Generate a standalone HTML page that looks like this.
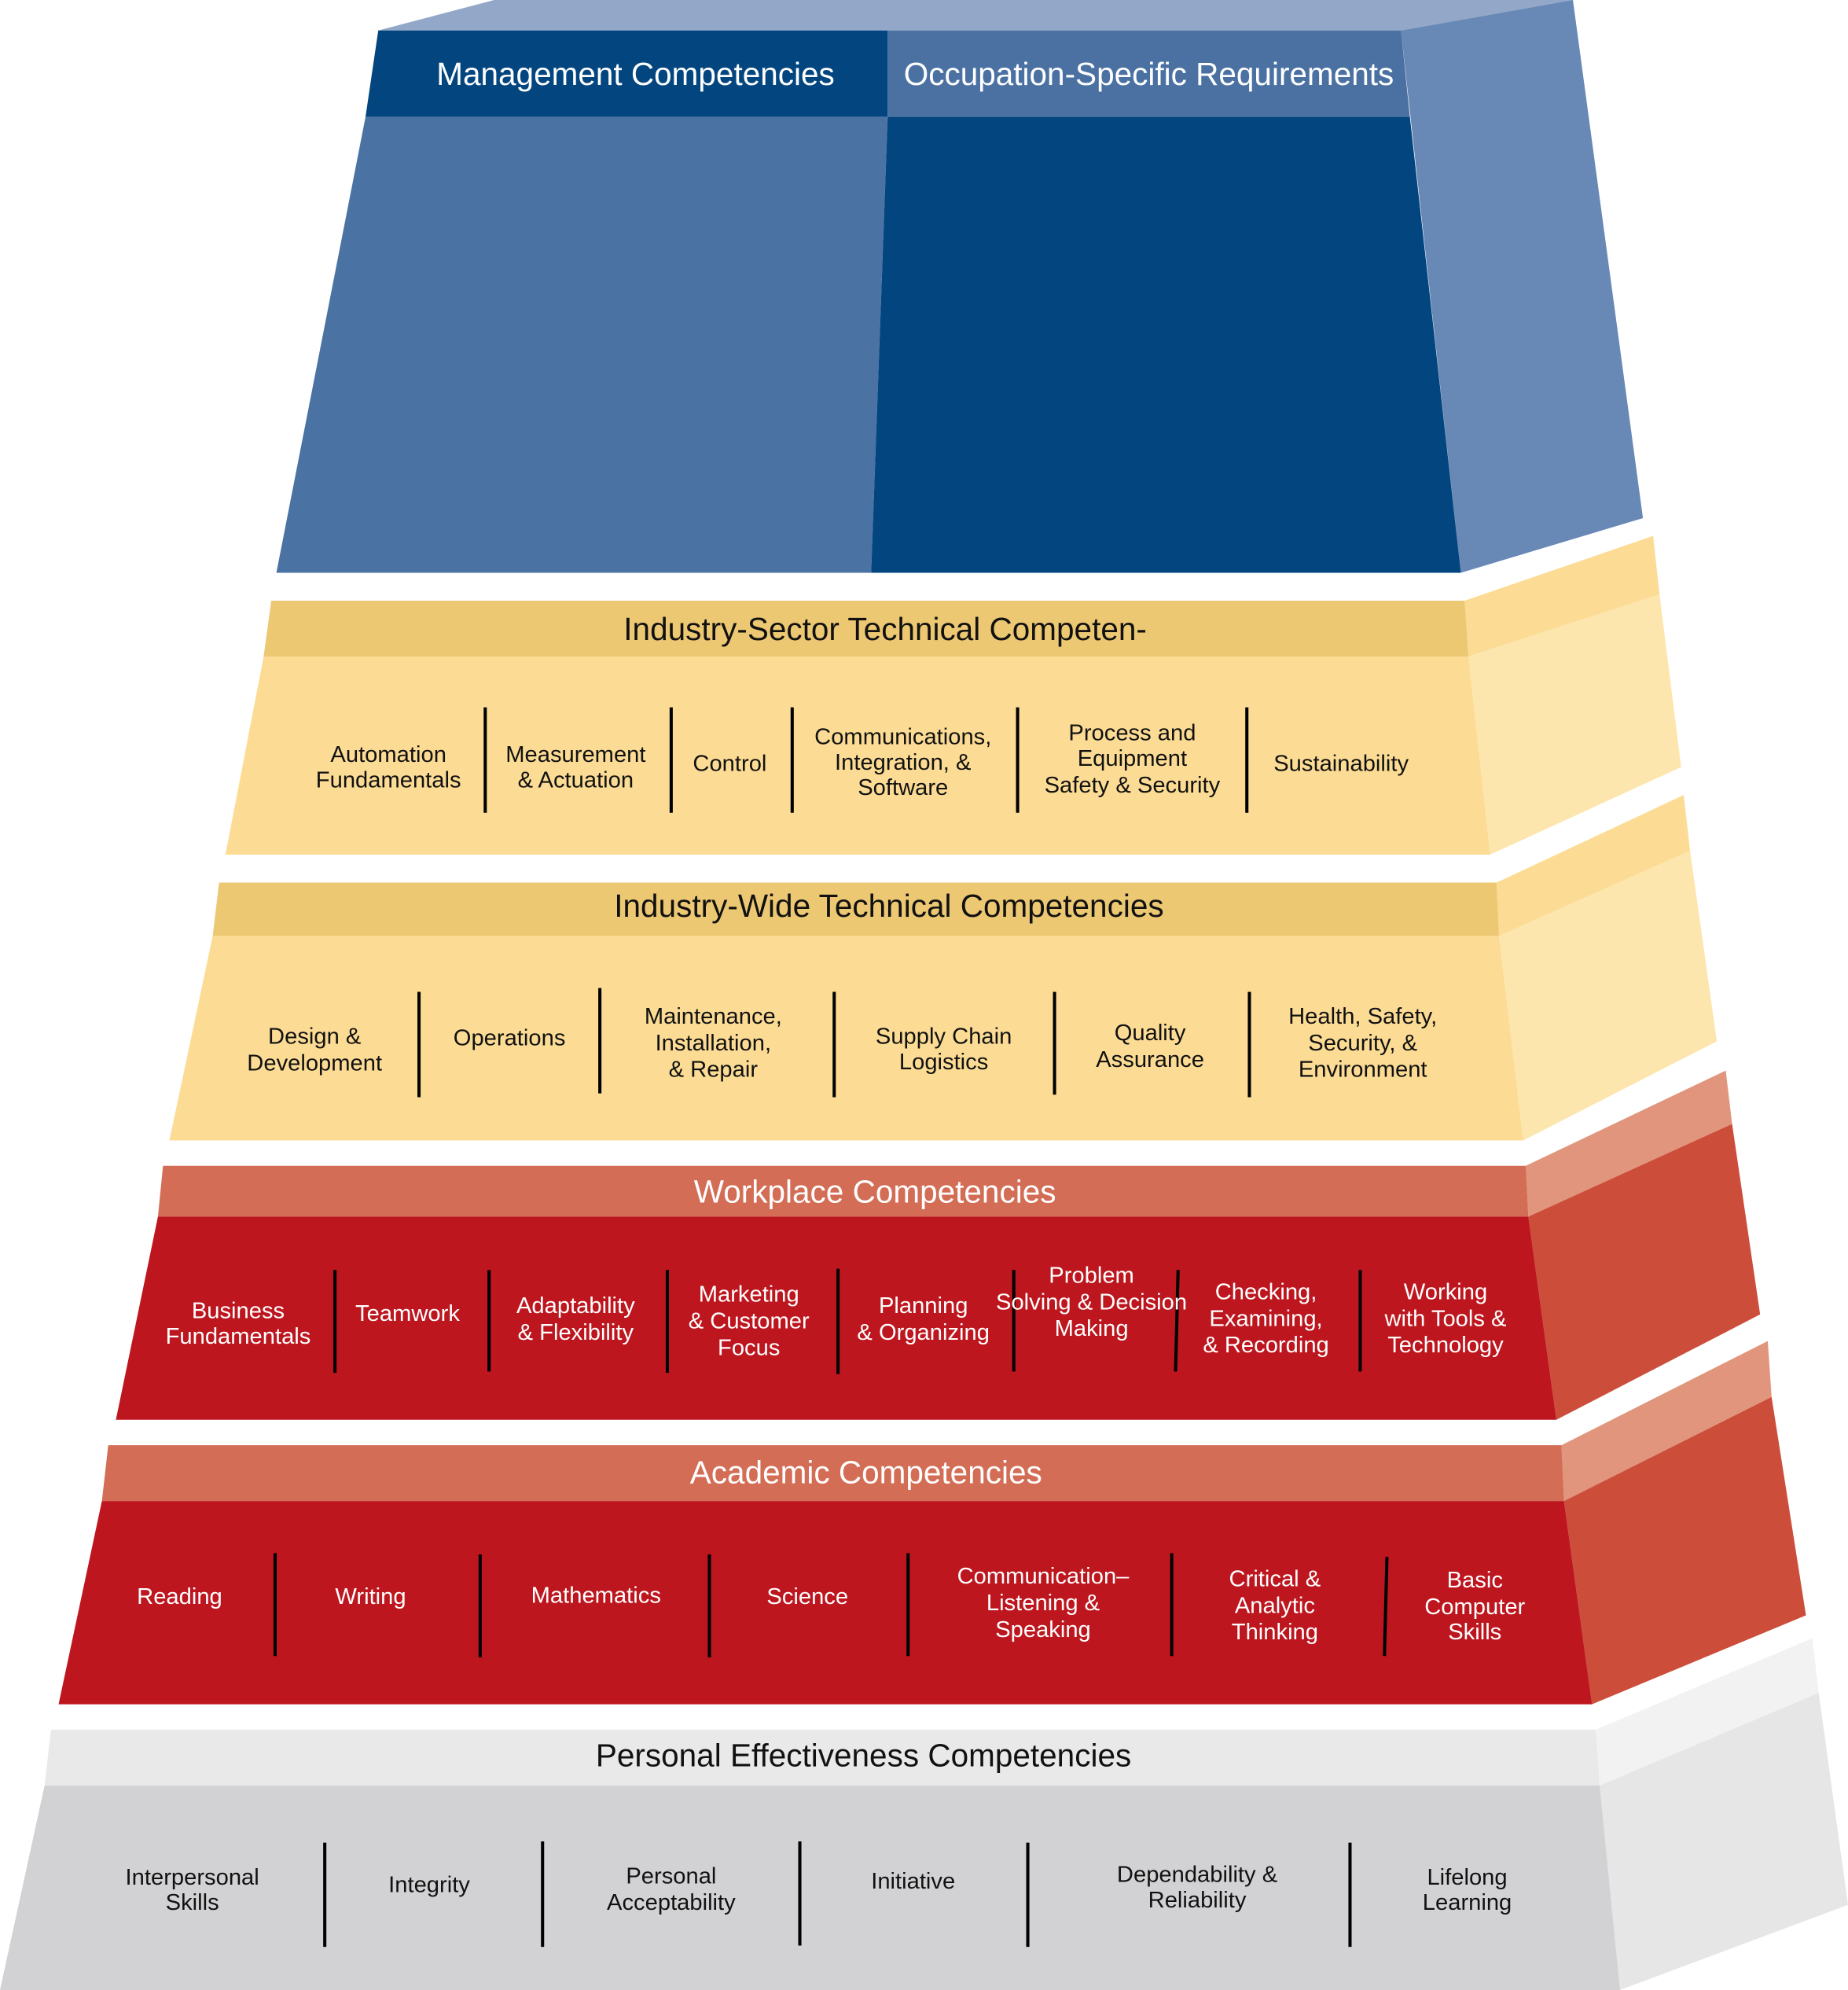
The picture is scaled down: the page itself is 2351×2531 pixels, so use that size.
<!DOCTYPE html>
<html><head><meta charset="utf-8"><style>
html,body{margin:0;padding:0;background:#fff}
svg{display:block}
text{font-family:"Liberation Sans",sans-serif}
</style></head><body>
<svg width="2351" height="2531" viewBox="0 0 1451 1567" preserveAspectRatio="none" xmlns="http://www.w3.org/2000/svg">
<!-- Top block -->
<polygon points="297,24 388,0 1235,0 1100,24" fill="#93a8c9"/>
<polygon points="1100,24 1235,0 1290,408 1147,451" fill="#6888b5"/>
<polygon points="297,24 697,24 697,92 287,92" fill="#02457f"/>
<polygon points="697,24 1100,24 1107,92 697,92" fill="#4a71a2"/>
<polygon points="287,92 697,92 684,451 217,451" fill="#4a72a3"/>
<polygon points="697,92 1107,92 1147,451 684,451" fill="#02457f"/>
<g fill="#fff" font-size="25" text-anchor="middle">
<text x="499" y="67">Management Competencies</text>
<text x="902" y="67">Occupation-Specific Requirements</text>
</g>

<!-- Industry-Sector -->
<polygon points="1150,473 1298,422 1303,468 1153,517" fill="#fcdc94"/>
<polygon points="1153,517 1303,468 1320,604 1170,673" fill="#fde6ad"/>
<polygon points="213,473 1150,473 1153,517 207,517" fill="#edc873"/>
<polygon points="207,517 1153,517 1170,673 177,673" fill="#fcdc94"/>
<text x="695" y="504" font-size="25" text-anchor="middle" fill="#111">Industry-Sector Technical Competen-</text>
<g stroke="#000" stroke-width="2.5">
<line x1="381" y1="557" x2="381" y2="640"/><line x1="527" y1="557" x2="527" y2="640"/><line x1="622" y1="557" x2="622" y2="640"/><line x1="799" y1="557" x2="799" y2="640"/><line x1="979" y1="557" x2="979" y2="640"/>
</g>
<g font-size="18" text-anchor="middle" fill="#111">
<text x="305" y="600">Automation</text><text x="305" y="620">Fundamentals</text>
<text x="452" y="600">Measurement</text><text x="452" y="620">&amp; Actuation</text>
<text x="573" y="607">Control</text>
<text x="709" y="586">Communications,</text><text x="709" y="606">Integration, &amp;</text><text x="709" y="626">Software</text>
<text x="889" y="583">Process and</text><text x="889" y="603">Equipment</text><text x="889" y="624">Safety &amp; Security</text>
<text x="1053" y="607">Sustainability</text>
</g>

<!-- Industry-Wide -->
<polygon points="1175,695 1322,626 1327,670 1177,737" fill="#fcdc94"/>
<polygon points="1177,737 1327,670 1348,820 1196,898" fill="#fde6ad"/>
<polygon points="172,695 1175,695 1177,737 167,737" fill="#edc873"/>
<polygon points="167,737 1177,737 1196,898 133,898" fill="#fcdc94"/>
<text x="698" y="722" font-size="25" text-anchor="middle" fill="#111">Industry-Wide Technical Competencies</text>
<g stroke="#000" stroke-width="2.5">
<line x1="329" y1="781" x2="329" y2="864"/><line x1="471" y1="778" x2="471" y2="861"/><line x1="655" y1="781" x2="655" y2="864"/><line x1="828" y1="781" x2="828" y2="862"/><line x1="981" y1="781" x2="981" y2="864"/>
</g>
<g font-size="18" text-anchor="middle" fill="#111">
<text x="247" y="822">Design &amp;</text><text x="247" y="843">Development</text>
<text x="400" y="823">Operations</text>
<text x="560" y="806">Maintenance,</text><text x="560" y="827">Installation,</text><text x="560" y="848">&amp; Repair</text>
<text x="741" y="822">Supply Chain</text><text x="741" y="842">Logistics</text>
<text x="903" y="819">Quality</text><text x="903" y="840">Assurance</text>
<text x="1070" y="806">Health, Safety,</text><text x="1070" y="827">Security, &amp;</text><text x="1070" y="848">Environment</text>
</g>

<!-- Workplace -->
<polygon points="1198,918 1355,843 1360,885 1200,958" fill="#e0957c"/>
<polygon points="1200,958 1360,885 1382,1035 1222,1118" fill="#cc4e3a"/>
<polygon points="128,918 1198,918 1200,958 124,958" fill="#d36d55"/>
<polygon points="124,958 1200,958 1222,1118 91,1118" fill="#bd161e"/>
<text x="687" y="947" font-size="25" text-anchor="middle" fill="#fff">Workplace Competencies</text>
<g stroke="#000" stroke-width="2.5">
<line x1="263" y1="1000" x2="263" y2="1081"/><line x1="384" y1="1000" x2="384" y2="1080"/><line x1="524" y1="1000" x2="524" y2="1081"/><line x1="658" y1="999" x2="658" y2="1082"/><line x1="796" y1="1000" x2="796" y2="1080"/><line x1="925" y1="1000" x2="923" y2="1080"/><line x1="1068" y1="1000" x2="1068" y2="1080"/>
</g>
<g font-size="18" text-anchor="middle" fill="#fff">
<text x="187" y="1038">Business</text><text x="187" y="1058">Fundamentals</text>
<text x="320" y="1040">Teamwork</text>
<text x="452" y="1034">Adaptability</text><text x="452" y="1055">&amp; Flexibility</text>
<text x="588" y="1025">Marketing</text><text x="588" y="1046">&amp; Customer</text><text x="588" y="1067">Focus</text>
<text x="725" y="1034">Planning</text><text x="725" y="1055">&amp; Organizing</text>
<text x="857" y="1010">Problem</text><text x="857" y="1031">Solving &amp; Decision</text><text x="857" y="1052">Making</text>
<text x="994" y="1023">Checking,</text><text x="994" y="1044">Examining,</text><text x="994" y="1065">&amp; Recording</text>
<text x="1135" y="1023">Working</text><text x="1135" y="1044">with Tools &amp;</text><text x="1135" y="1065">Technology</text>
</g>

<!-- Academic -->
<polygon points="1226,1138 1388,1056 1391,1100 1228,1182" fill="#e0957c"/>
<polygon points="1228,1182 1391,1100 1418,1272 1250,1342" fill="#cc4e3a"/>
<polygon points="85,1138 1226,1138 1228,1182 80,1182" fill="#d36d55"/>
<polygon points="80,1182 1228,1182 1250,1342 46,1342" fill="#bd161e"/>
<text x="680" y="1168" font-size="25" text-anchor="middle" fill="#fff">Academic Competencies</text>
<g stroke="#000" stroke-width="2.5">
<line x1="216" y1="1223" x2="216" y2="1304"/><line x1="377" y1="1224" x2="377" y2="1305"/><line x1="557" y1="1224" x2="557" y2="1305"/><line x1="713" y1="1223" x2="713" y2="1304"/><line x1="920" y1="1223" x2="920" y2="1304"/><line x1="1089" y1="1226" x2="1087" y2="1304"/>
</g>
<g font-size="18" text-anchor="middle" fill="#fff">
<text x="141" y="1263">Reading</text>
<text x="291" y="1263">Writing</text>
<text x="468" y="1262">Mathematics</text>
<text x="634" y="1263">Science</text>
<text x="819" y="1247">Communication–</text><text x="819" y="1268">Listening &amp;</text><text x="819" y="1289">Speaking</text>
<text x="1001" y="1249">Critical &amp;</text><text x="1001" y="1270">Analytic</text><text x="1001" y="1291">Thinking</text>
<text x="1158" y="1250">Basic</text><text x="1158" y="1271">Computer</text><text x="1158" y="1291">Skills</text>
</g>

<!-- Personal -->
<polygon points="1253,1362 1423,1290 1428,1333 1256,1406" fill="#f2f2f2"/>
<polygon points="1256,1406 1428,1333 1451,1500 1272,1567" fill="#e6e6e6"/>
<polygon points="40,1362 1253,1362 1256,1406 35,1406" fill="#e9e9e9"/>
<polygon points="35,1406 1256,1406 1272,1567 0,1567" fill="#d2d2d4"/>
<text x="678" y="1391" font-size="25" text-anchor="middle" fill="#111">Personal Effectiveness Competencies</text>
<g stroke="#000" stroke-width="2.5">
<line x1="255" y1="1451" x2="255" y2="1533"/><line x1="426" y1="1450" x2="426" y2="1533"/><line x1="628" y1="1450" x2="628" y2="1532"/><line x1="807" y1="1451" x2="807" y2="1533"/><line x1="1060" y1="1451" x2="1060" y2="1533"/>
</g>
<g font-size="18" text-anchor="middle" fill="#111">
<text x="151" y="1484">Interpersonal</text><text x="151" y="1504">Skills</text>
<text x="337" y="1490">Integrity</text>
<text x="527" y="1483">Personal</text><text x="527" y="1504">Acceptability</text>
<text x="717" y="1487">Initiative</text>
<text x="940" y="1482">Dependability &amp;</text><text x="940" y="1502">Reliability</text>
<text x="1152" y="1484">Lifelong</text><text x="1152" y="1504">Learning</text>
</g>
</svg>
</body></html>
